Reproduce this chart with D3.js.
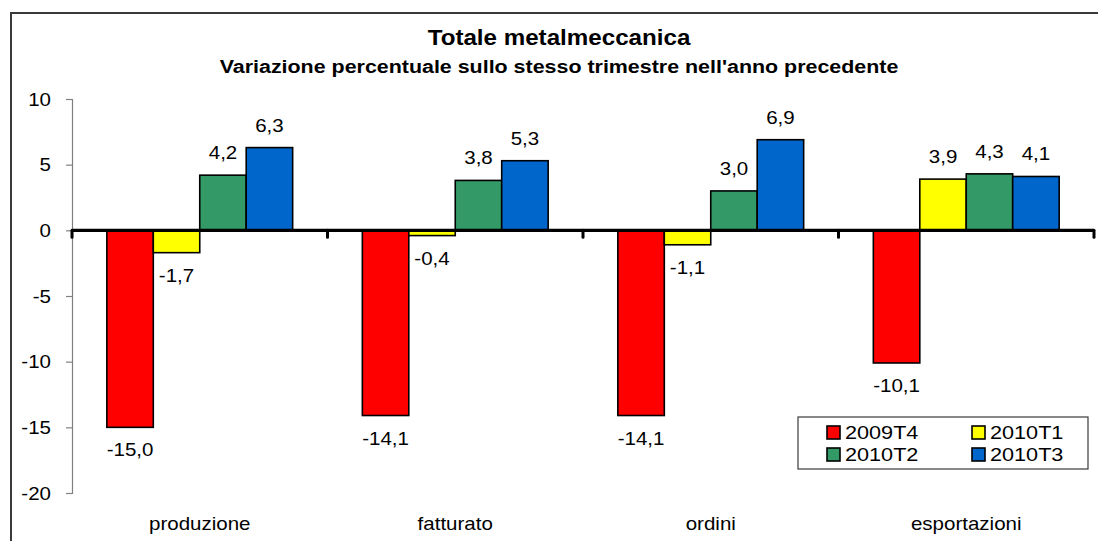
<!DOCTYPE html>
<html><head><meta charset="utf-8">
<script src="https://cdn.jsdelivr.net/npm/d3@7"></script>
<style>html,body{margin:0;padding:0;background:#fff;}svg{display:block;font-family:"Liberation Sans",Arial,sans-serif;}</style>
</head><body>
<svg id="c" width="1098" height="541"></svg>
<script>
const categories = ["produzione", "fatturato", "ordini", "esportazioni"];
const seriesNames = ["2009T4", "2010T1", "2010T2", "2010T3"];
const v2009T4 = [-15.0, -14.1, -14.1, -10.1];
const v2010T1 = [-1.7, -0.4, -1.1, 3.9];
const v2010T2 = [4.2, 3.8, 3.0, 4.3];
const v2010T3 = [6.3, 5.3, 6.9, 4.1];
const seriesColors = ["#FF0000", "#FFFF00", "#339966", "#0066CC"];
const yTicks = [10, 5, 0, -5, -10, -15, -20];
const titleText = "Totale metalmeccanica";
const subtitleText = "Variazione percentuale sullo stesso trimestre nell'anno precedente";

const seriesValues = [v2009T4, v2010T1, v2010T2, v2010T3];
const SX = 1.14;
const svg = d3.select("#c");

function txt(g, x, y, s, size, anchor, weight) {
  return g.append("text")
    .attr("transform", `translate(${x},${y}) scale(${SX},1)`)
    .attr("font-size", size)
    .attr("text-anchor", anchor || "start")
    .attr("font-weight", weight || "normal")
    .attr("fill", "#000")
    .text(s);
}

// outer frame
svg.append("rect").attr("x", 11).attr("y", 13).attr("width", 1200).attr("height", 700)
  .attr("fill", "none").attr("stroke", "#3a3a3a").attr("stroke-width", 2);

// titles
txt(svg, 559, 45, titleText, 21.2, "middle", "bold");
txt(svg, 559, 73, subtitleText, 18.8, "middle", "bold");

const x0 = d3.scaleBand().domain(categories).range([72, 1094]).paddingInner(0).paddingOuter(0);
const x1 = d3.scaleBand().domain(seriesNames).range([0, x0.bandwidth()]).paddingInner(0).paddingOuter(0.75);
const y = d3.scaleLinear().domain([-20, 10]).range([493, 99]);

// y axis
const yAxis = d3.axisLeft(y).tickValues(yTicks).tickSize(6);
const ya = svg.append("g").attr("transform", "translate(72,0)").call(yAxis);
ya.select(".domain").attr("stroke", "#808080").attr("stroke-width", 1.2);
ya.selectAll(".tick line").attr("stroke", "#808080").attr("stroke-width", 1.2);
ya.selectAll(".tick text").remove();
yTicks.forEach(t => {
  txt(svg, 51, y(t) + 6.5, String(t), 18, "end");
});

// bars
const groups = svg.append("g").selectAll("g").data(categories).join("g")
  .attr("transform", d => `translate(${x0(d)},0)`);
groups.each(function(cat, ci) {
  const g = d3.select(this);
  seriesNames.forEach((s, si) => {
    const v = seriesValues[si][ci];
    g.append("rect")
      .attr("x", x1(s)).attr("width", x1.bandwidth())
      .attr("y", Math.min(y(v), y(0))).attr("height", Math.abs(y(v) - y(0)))
      .attr("fill", seriesColors[si]).attr("stroke", "#000").attr("stroke-width", 1.6);
  });
});

// zero axis
svg.append("line").attr("x1", 72).attr("x2", 1094).attr("y1", y(0)).attr("y2", y(0))
  .attr("stroke", "#000").attr("stroke-width", 3.4);
const bounds = categories.map(c => x0(c)).concat([x0.range()[1]]);
svg.append("g").selectAll("line").data(bounds).join("line")
  .attr("x1", d => d).attr("x2", d => d).attr("y1", y(0)).attr("y2", y(0) + 7)
  .attr("stroke", "#000").attr("stroke-width", 3).attr("stroke-linecap", "round");

// data labels
groups.each(function(cat, ci) {
  const g = d3.select(this);
  seriesNames.forEach((s, si) => {
    const v = seriesValues[si][ci];
    const cx = x1(s) + x1.bandwidth() / 2;
    const ly = v >= 0 ? y(v) - 16 : y(v) + 29;
    txt(g, cx, ly, d3.format(".1f")(v).replace("−", "-").replace(".", ","), 18, "middle");
  });
});

// category labels
categories.forEach(c => txt(svg, x0(c) + x0.bandwidth() / 2, 530, c, 18, "middle"));

// legend
const lg = svg.append("g");
lg.append("rect").attr("x", 798).attr("y", 417).attr("width", 290).attr("height", 52)
  .attr("fill", "#fff").attr("stroke", "#3a3a3a").attr("stroke-width", 1.2);
const legPos = [[827, 426], [972, 426], [827, 448], [972, 448]];
seriesNames.forEach((s, i) => {
  const [lx, ly] = legPos[i];
  lg.append("rect").attr("x", lx).attr("y", ly).attr("width", 13).attr("height", 13)
    .attr("fill", seriesColors[i]).attr("stroke", "#000").attr("stroke-width", 1.6);
  txt(lg, lx + 18, ly + 13, s, 19, "start");
});
</script>
</body></html>
